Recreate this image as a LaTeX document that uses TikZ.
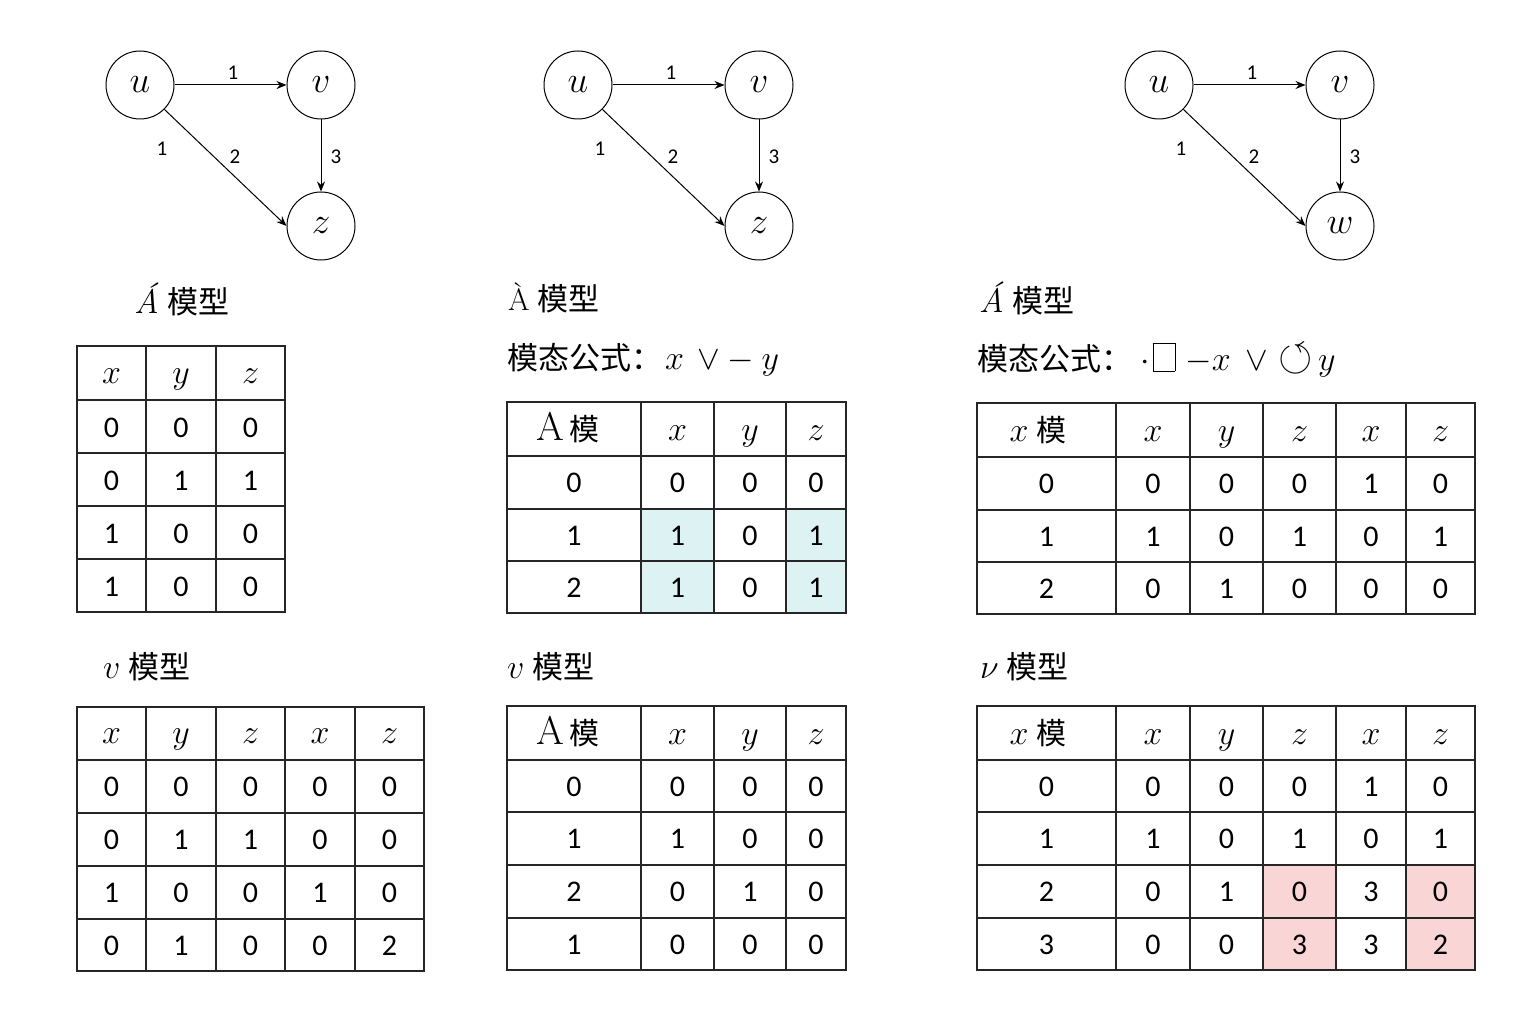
\documentclass[tikz,border=0pt]{standalone}
\usepackage{fix-cm}
\usepackage{amssymb}
\usepackage{fontspec}
\newfontfamily\cjk{Noto Sans CJK SC}
\newfontfamily\digits{Carlito}
\usetikzlibrary{arrows.meta,positioning}
\definecolor{hlcyan}{RGB}{221,243,243}
\definecolor{hlpink}{RGB}{249,213,213}
\newcommand{\tofu}{{\setlength\fboxsep{0pt}\setlength\fboxrule{0.9pt}\fbox{\rule{0pt}{27pt}\hspace{21pt}}}}
\newcommand{\mv}[1]{{\fontsize{34}{40}\selectfont$#1$}}
\newcommand{\aacu}{{\normalfont\itshape\fontsize{34}{40}\selectfont Á}}
\newcommand{\amo}{{\normalfont\fontsize{40}{44}\selectfont A}\hspace{6pt}{\cjk 模}}
\newcommand{\xmo}{\mv{x}\hspace{8pt}{\cjk 模}}

\begin{document}
\begin{tikzpicture}[x=1pt,y=-1pt,
  vertex/.style={circle,draw,line width=1pt,minimum size=68pt,inner sep=0pt,font=\fontsize{37}{40}\selectfont},
  wt/.style={font=\digits\fontsize{21}{24}\selectfont,inner sep=0pt},
  ar/.style={-{Stealth[length=10pt,width=8pt]},line width=1pt},
  grid/.style={line width=1.3pt,black!85},
  val/.style={font=\digits\fontsize{30}{36}\selectfont,inner sep=0pt,text height=20pt,text depth=0pt},
  head/.style={anchor=west,font=\fontsize{31}{36}\selectfont,inner sep=0pt}]
 \useasboundingbox (0,0) rectangle (1536,1024);
 % three graphs
 \foreach \gx/\gid/\gend in {140/a/z,578/b/z,1159/c/w}{
   \node[vertex] (u\gid) at (\gx,85) {$u$};
   \node[vertex] (v\gid) at (\gx+181,85) {$v$};
   \node[vertex] (\gend\gid) at (\gx+181,226) {$\gend$};
   \draw[ar] (u\gid) -- (v\gid); \draw[ar] (v\gid) -- (\gend\gid); \draw[ar] (u\gid.-45) -- (\gend\gid.west);
   \node[wt] (la\gid) at (\gx+93,73) {1};
   \node[wt] (lb\gid) at (\gx+22,149) {1};
   \node[wt] (lc\gid) at (\gx+95,157) {2};
   \node[wt] (ld\gid) at (\gx+196,157) {3};
 }
 % headings
 \node[head] (ha) at (134,299) {\aacu\hspace{9pt}\cjk 模型};
 \node[head] (hb) at (508,298) {\`A\hspace{8pt}\cjk 模型};
 \node[head] (hc) at (979,298) {\aacu\hspace{9pt}\cjk 模型};
 \node[head] (fb) at (507,360) {\cjk 模态公式：\hspace{3pt}\mv{x\mkern7mu{\vee}\mkern4mu{-}\mkern4mu y}};
 \node[head] (fc) at (977,360) {\cjk 模态公式：\hspace{8pt}\mv{\cdot}\hspace{3pt}\tofu\hspace{10pt}\mv{{-}x\mkern8mu{\vee}\mkern5mu\scalebox{1.3}{$\circlearrowleft$}\mkern3mu y}};
 \node[head] (hd) at (103,667) {\mv{v}\hspace{8pt}\cjk 模型};
 \node[head] (he) at (507,667) {\mv{v}\hspace{8pt}\cjk 模型};
 \node[head] (hf) at (980,667) {\mv{\nu}\hspace{8pt}\cjk 模型};
 % table A
 \draw[grid] (77,346) rectangle (285,612);
 \foreach \x in {146,216} \draw[grid] (\x,346) -- (\x,612);
 \foreach \y in {400,453,506,559} \draw[grid] (77,\y) -- (285,\y);
 \foreach \y/\a/\b/\c [count=\r] in {373/\mv{x}/\mv{y}/\mv{z},427/0/0/0,480/0/1/1,533/1/0/0,586/1/0/0}{
   \node[val] (ta\r-1) at (111.5,\y) {\a}; \node[val] (ta\r-2) at (181,\y) {\b}; \node[val] (ta\r-3) at (250.5,\y) {\c};}
 % table B
 \draw[grid] (77,707) rectangle (424,971);
 \foreach \x in {146,216,285,355} \draw[grid] (\x,707) -- (\x,971);
 \foreach \y in {760,813,866,919} \draw[grid] (77,\y) -- (424,\y);
 \foreach \y/\a/\b/\c/\d/\e [count=\r] in {733.5/\mv{x}/\mv{y}/\mv{z}/\mv{x}/\mv{z},786.5/0/0/0/0/0,839.5/0/1/1/0/0,892.5/1/0/0/1/0,945/0/1/0/0/2}{
   \node[val] (tb\r-1) at (111.5,\y) {\a}; \node[val] (tb\r-2) at (181,\y) {\b}; \node[val] (tb\r-3) at (250.5,\y) {\c};
   \node[val] (tb\r-4) at (320,\y) {\d}; \node[val] (tb\r-5) at (389.5,\y) {\e};}
 % table C
 \fill[hlcyan] (641,509) rectangle (714,613); \fill[hlcyan] (786,509) rectangle (846,613);
 \draw[grid] (507,402) rectangle (846,613);
 \foreach \x in {641,714,786} \draw[grid] (\x,402) -- (\x,613);
 \foreach \y in {456,509,561} \draw[grid] (507,\y) -- (846,\y);
 \node[val] (tc0-1) at (568,430) {\amo};
 \foreach \y/\b/\c/\d [count=\r from 0] in {430/\mv{x}/\mv{y}/\mv{z},482.5/0/0/0,535/1/0/1,587/1/0/1}{
   \node[val] (tc\r-2) at (677.5,\y) {\b}; \node[val] (tc\r-3) at (750,\y) {\c}; \node[val] (tc\r-4) at (816,\y) {\d};}
 \foreach \y/\a [count=\r] in {482.5/0,535/1,587/2} \node[val] (tc\r-1) at (574,\y) {\a};
 % table D
 \draw[grid] (507,706) rectangle (846,970);
 \foreach \x in {641,714,786} \draw[grid] (\x,706) -- (\x,970);
 \foreach \y in {760,812,865,918} \draw[grid] (507,\y) -- (846,\y);
 \node[val] (td0-1) at (568,734) {\amo};
 \foreach \y/\b/\c/\d [count=\r from 0] in {734/\mv{x}/\mv{y}/\mv{z},786/0/0/0,838.5/1/0/0,891.5/0/1/0,944/0/0/0}{
   \node[val] (td\r-2) at (677.5,\y) {\b}; \node[val] (td\r-3) at (750,\y) {\c}; \node[val] (td\r-4) at (816,\y) {\d};}
 \foreach \y/\a [count=\r] in {786/0,838.5/1,891.5/2,944/1} \node[val] (td\r-1) at (574,\y) {\a};
 % table E
 \draw[grid] (977,403) rectangle (1475,614);
 \foreach \x in {1116,1190,1263,1336,1406} \draw[grid] (\x,403) -- (\x,614);
 \foreach \y in {457,510,562} \draw[grid] (977,\y) -- (1475,\y);
 \node[val] (te0-1) at (1038,431) {\xmo};
 \foreach \y/\a/\b/\c/\d/\e/\f [count=\r from 0] in {431/{}/\mv{x}/\mv{y}/\mv{z}/\mv{x}/\mv{z},483.5/0/0/0/0/1/0,536/1/1/0/1/0/1,588/2/0/1/0/0/0}{
   \ifnum\r>0 \node[val] (te\r-1) at (1046.5,\y) {\a};\fi
   \node[val] (te\r-2) at (1153,\y) {\b}; \node[val] (te\r-3) at (1226.5,\y) {\c};
   \node[val] (te\r-4) at (1299.5,\y) {\d}; \node[val] (te\r-5) at (1371,\y) {\e}; \node[val] (te\r-6) at (1440.5,\y) {\f};}
 % table F
 \fill[hlpink] (1263,865) rectangle (1336,970); \fill[hlpink] (1406,865) rectangle (1475,970);
 \draw[grid] (977,706) rectangle (1475,970);
 \foreach \x in {1116,1190,1263,1336,1406} \draw[grid] (\x,706) -- (\x,970);
 \foreach \y in {760,812,865,918} \draw[grid] (977,\y) -- (1475,\y);
 \node[val] (tf0-1) at (1038,734) {\xmo};
 \foreach \y/\a/\b/\c/\d/\e/\f [count=\r from 0] in {734/{}/\mv{x}/\mv{y}/\mv{z}/\mv{x}/\mv{z},786/0/0/0/0/1/0,838.5/1/1/0/1/0/1,891.5/2/0/1/0/3/0,944/3/0/0/3/3/2}{
   \ifnum\r>0 \node[val] (tf\r-1) at (1046.5,\y) {\a};\fi
   \node[val] (tf\r-2) at (1153,\y) {\b}; \node[val] (tf\r-3) at (1226.5,\y) {\c};
   \node[val] (tf\r-4) at (1299.5,\y) {\d}; \node[val] (tf\r-5) at (1371,\y) {\e}; \node[val] (tf\r-6) at (1440.5,\y) {\f};}
\end{tikzpicture}
\end{document}
